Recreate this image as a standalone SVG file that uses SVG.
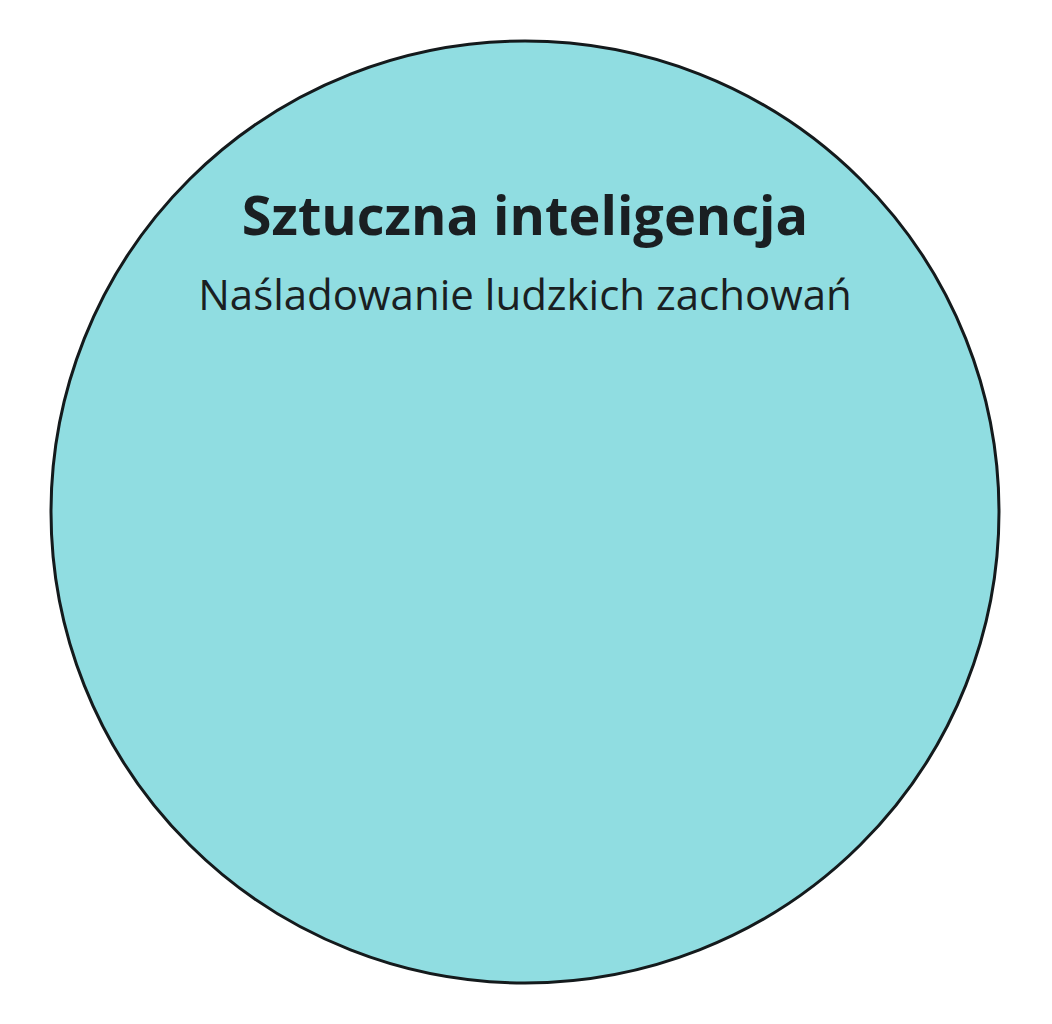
<svg xmlns="http://www.w3.org/2000/svg" width="1052" height="1024" viewBox="0 0 1052 1024">
<style>
.t{font-family:"Open Sans","Noto Sans","Liberation Sans",sans-serif;fill:#1a1f22;text-anchor:middle}
.h{font-size:54px;font-weight:700}
.s{font-size:42px;font-weight:400}
</style>
<rect width="1052" height="1024" fill="#ffffff"/>
<g id="ai">
<ellipse cx="525" cy="512" rx="474" ry="471" fill="#90dde1" stroke="#141a1c" stroke-width="3"/>
<text class="t h" x="525" y="235">Sztuczna inteligencja</text>
<text class="t s" x="525" y="310">Naśladowanie ludzkich zachowań</text>
</g>
<g id="connectors"/>
</svg>
